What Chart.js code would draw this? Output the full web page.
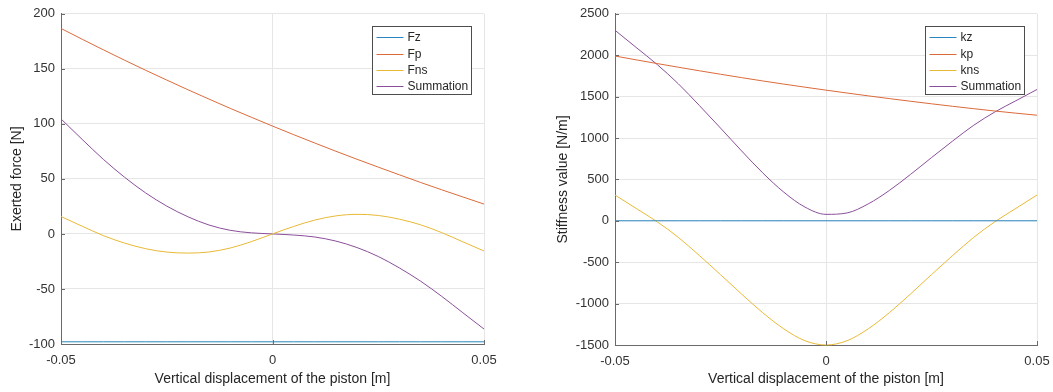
<!DOCTYPE html>
<html lang="en">
<head>
<meta charset="UTF-8">
<title>Exerted force and stiffness</title>
<script src="https://cdn.jsdelivr.net/npm/chart.js@4.4.0/dist/chart.umd.min.js"></script>
<style>
  html, body { margin: 0; padding: 0; background: #fff; overflow: hidden; }
  #wrap { position: relative; width: 1053px; height: 392px; overflow: hidden; }
  canvas { position: absolute; top: 0; }
  #forceChart { left: 0; }
  #stiffChart { left: 527px; }
</style>
</head>
<body>
<div id="wrap">
  <canvas id="forceChart" width="527" height="392"></canvas>
  <canvas id="stiffChart" width="532" height="392"></canvas>
</div>
<script>
// displacement samples [m]
const xs = [-0.05, -0.045, -0.04, -0.035, -0.03, -0.025, -0.02, -0.015, -0.01, -0.005, 0,
            0.005, 0.01, 0.015, 0.02, 0.025, 0.03, 0.035, 0.04, 0.045, 0.05];

// left plot: forces [N]
const forceLabels = ['Fz', 'Fp', 'Fns', 'Summation'];
const fz = [-98, -98, -98, -98, -98, -98, -98, -98, -98, -98, -98,
            -98, -98, -98, -98, -98, -98, -98, -98, -98, -98];
const fp = [186.7, 176.9, 167.3, 157.9, 148.7, 139.8, 131.0, 122.5, 114.1, 106.0, 98.0,
            90.2, 82.6, 75.1, 67.8, 60.7, 53.7, 46.8, 40.1, 33.6, 27.1];
const fns = [15.8, 7.0, -1.5, -8.3, -13.4, -16.5, -17.4, -16.4, -12.8, -7.0, 0,
             6.8, 12.6, 16.4, 17.8, 16.8, 13.4, 8.3, 1.2, -7.2, -15.5];
const fsum = [104.5, 85.9, 67.8, 51.6, 37.3, 25.3, 15.6, 8.1, 3.3, 1.0, 0,
              -1.0, -2.8, -6.5, -12.4, -20.5, -30.9, -42.9, -56.7, -71.6, -86.4];

// right plot: stiffness [N/m]
const stiffLabels = ['kz', 'kp', 'kns', 'Summation'];
const kz = [0, 0, 0, 0, 0, 0, 0, 0, 0, 0, 0,
            0, 0, 0, 0, 0, 0, 0, 0, 0, 0];
const kp = [1990, 1944, 1899, 1855, 1812, 1770, 1729, 1689, 1651, 1614, 1578,
            1543, 1509, 1476, 1444, 1413, 1383, 1354, 1326, 1300, 1275];
const kns = [311, 150, -12, -200, -420, -650, -885, -1110, -1305, -1448, -1500,
             -1448, -1305, -1110, -885, -650, -420, -200, -12, 150, 311];
const ksum = [2301, 2094, 1887, 1655, 1392, 1120, 844, 579, 346, 166, 78,
              95, 204, 366, 559, 763, 963, 1154, 1314, 1450, 1586];

const colors = ['#2a86c0', '#db6a3a', '#e8b935', '#8a4f9a'];
const gridColor = '#e6e6e6';
const axisColor = '#6a6a6a';

Chart.defaults.font.family = '"Liberation Sans", Arial, Helvetica, sans-serif';

function series(ys) {
  return xs.map((x, i) => ({ x: x, y: ys[i] }));
}

// matlab style: ticks pointing inward + boxed legend at top right
const matlabLook = {
  id: 'matlabLook',
  afterDraw(chart) {
    const ctx = chart.ctx;
    const area = chart.chartArea;
    ctx.save();
    ctx.strokeStyle = axisColor;
    ctx.lineWidth = 1;
    ctx.beginPath();
    chart.scales.y.ticks.forEach((t, i) => {
      const py = Math.round(chart.scales.y.getPixelForTick(i)) + 0.5;
      ctx.moveTo(area.left, py);
      ctx.lineTo(area.left + 4, py);
    });
    chart.scales.x.ticks.forEach((t, i) => {
      const px = Math.round(chart.scales.x.getPixelForTick(i)) + 0.5;
      ctx.moveTo(px, area.bottom);
      ctx.lineTo(px, area.bottom - 4);
    });
    ctx.stroke();

    // legend
    const w = 99, h = 68;
    const bx = Math.round(area.right - 13 - w) + 0.5;
    const by = Math.round(area.top + 12.5) + 0.5;
    ctx.fillStyle = '#fff';
    ctx.fillRect(bx, by, w, h);
    ctx.strokeStyle = '#4d4d4d';
    ctx.strokeRect(bx, by, w, h);
    ctx.font = '12px "Liberation Sans", Arial, sans-serif';
    ctx.textBaseline = 'middle';
    ctx.textAlign = 'left';
    const rows = [10, 27, 43, 59];
    chart.data.datasets.forEach((ds, i) => {
      const ry = Math.round(by + rows[i]) + 0.5;
      ctx.strokeStyle = ds.borderColor;
      ctx.beginPath();
      ctx.moveTo(bx + 4, ry);
      ctx.lineTo(bx + 31, ry);
      ctx.stroke();
      ctx.fillStyle = '#262626';
      ctx.fillText(ds.label, bx + 35, ry);
    });
    ctx.restore();
  }
};

function makeChart(id, cfg) {
  return new Chart(document.getElementById(id), {
    type: 'line',
    data: {
      datasets: cfg.labels.map((lab, i) => ({
        label: lab,
        data: series(cfg.series[i]),
        borderColor: colors[i],
        backgroundColor: colors[i],
        borderWidth: 1,
        pointRadius: 0,
        cubicInterpolationMode: 'monotone',
        fill: false,
        clip: 3
      }))
    },
    options: {
      responsive: false,
      animation: false,
      layout: { padding: { left: 0, right: cfg.padRight, top: cfg.padTop, bottom: 0 } },
      plugins: { legend: { display: false }, tooltip: { enabled: false } },
      scales: {
        x: {
          type: 'linear',
          min: -0.05,
          max: 0.05,
          ticks: {
            stepSize: 0.05,
            padding: 9,
            maxRotation: 0,
            color: '#333',
            font: { size: 13 },
            callback: v => {
              const r = Math.round(v * 100) / 100;
              return r === 0 ? '0' : String(r);
            }
          },
          grid: { color: gridColor, drawTicks: false },
          border: { color: axisColor },
          title: {
            display: true,
            text: 'Vertical displacement of the piston [m]',
            color: '#262626',
            font: { size: 14 },
            padding: { top: 0, bottom: 4 }
          },
          afterFit: s => { s.height = cfg.xHeight; }
        },
        y: {
          type: 'linear',
          min: cfg.yMin,
          max: cfg.yMax,
          ticks: {
            stepSize: cfg.yStep,
            padding: 6,
            color: '#333',
            font: { size: 13 },
            callback: v => String(v)
          },
          grid: { color: gridColor, drawTicks: false },
          border: { color: axisColor },
          title: {
            display: true,
            text: cfg.yTitle,
            color: '#262626',
            font: { size: 14 },
            padding: { top: cfg.yTitlePad, bottom: 0 }
          },
          afterFit: s => { s.width = cfg.yWidth; }
        }
      }
    },
    plugins: [matlabLook]
  });
}

makeChart('forceChart', {
  labels: forceLabels,
  series: [fz, fp, fns, fsum],
  yMin: -100, yMax: 200, yStep: 50,
  yTitle: 'Exerted force [N]',
  yWidth: 61, yTitlePad: 9,
  xHeight: 48, padTop: 10, padRight: 43
});

// canvas runs a little past the page edge so the last tick label's
// reserved padding does not pull the plot area in
makeChart('stiffChart', {
  labels: stiffLabels,
  series: [kz, kp, kns, ksum],
  yMin: -1500, yMax: 2500, yStep: 500,
  yTitle: 'Stiffness value [N/m]',
  yWidth: 88, yTitlePad: 28,
  xHeight: 47, padTop: 11, padRight: 22
});
</script>
</body>
</html>
